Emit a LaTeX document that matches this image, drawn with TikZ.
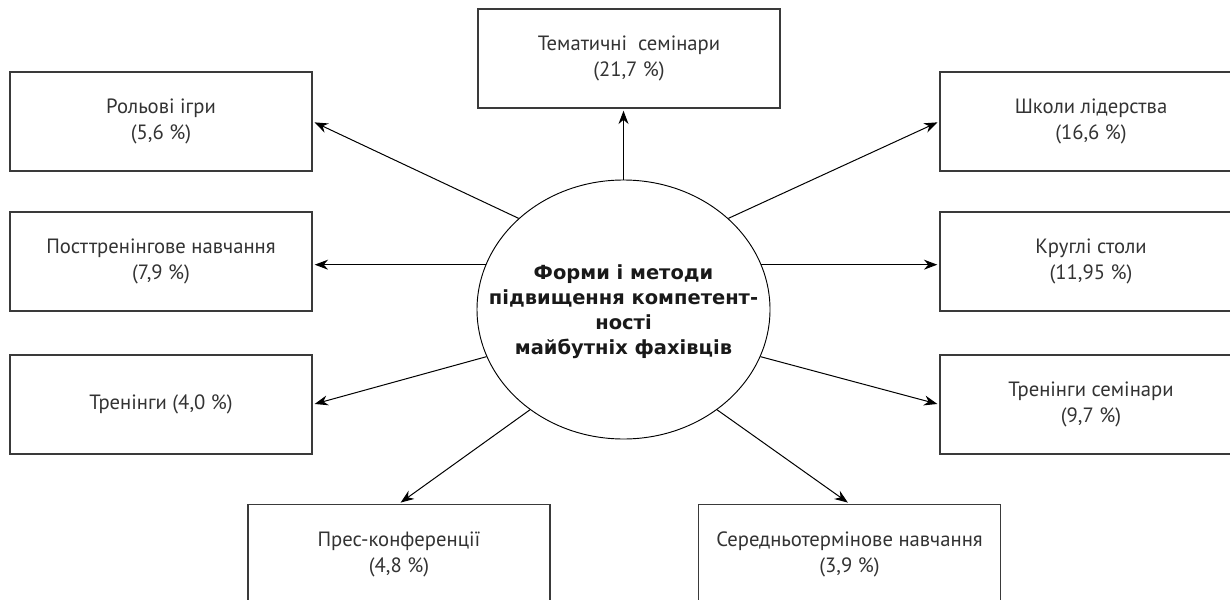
\documentclass[tikz,border=0pt]{standalone}
\usepackage{fontspec}
\setmainfont{PT Sans}
\newfontfamily\hubfont{DejaVu Sans}
\usetikzlibrary{arrows.meta,shapes.geometric}
\definecolor{boxline}{HTML}{3A3A3A}
\definecolor{boxtext}{HTML}{333333}
\begin{document}
\begin{tikzpicture}[x=0.75pt,y=-0.75pt,
  box/.style={draw=boxline, line width=1.1pt, minimum width=226.5pt, minimum height=74.25pt,
    inner sep=0pt, align=center, text=boxtext, font=\fontsize{15.5}{19.5}\selectfont},
  hub/.style={draw=black, line width=0.7pt, ellipse, minimum width=219.75pt, minimum height=194.25pt,
    inner sep=0pt},
  hubtext/.style={inner sep=0pt, align=center, text=black!90,
    font=\hubfont\bfseries\fontsize{14.6}{18.75}\selectfont},
  arr/.style={draw=black, line width=0.75pt, -{Stealth[length=10pt,width=7.5pt]}, shorten >=1.5pt}]
\clip (0,0) rectangle (1230,599);
\node[hub] (c) at (623.5,309.5) {};
\node[hubtext] (ct) at ([yshift=-2pt]c.center) {Форми і методи\\підвищення компетент-\\ності\\майбутніх фахівців};
\node[box] (tem)  at (629,58.5)    {Тематичні\ \ семінари\\(21,7 \%)};
\node[box] (rol)  at (161,121.5)   {Рольові ігри\\(5,6 \%)};
\node[box] (post) at (161,261.5)   {Посттренінгове навчання\\(7,9 \%)};
\node[box] (tr)   at (161,404.5)   {Тренінги (4,0 \%)};
\node[box] (pres) at (399,554)     {Прес-конференції\\(4,8 \%)};
\node[box] (ser)  at (849.5,554)   {Середньотермінове навчання\\(3,9 \%)};
\node[box] (shk)  at (1091,121.5)  {Школи лідерства\\(16,6 \%)};
\node[box] (krug) at (1091,261.5)  {Круглі столи\\(11,95 \%)};
\node[box] (tsem) at (1091,404.5)  {Тренінги семінари\\(9,7 \%)};
\draw[arr] (c.north) -- (c.north |- tem.south);
\draw[arr] (c.139) -- (rol.east);
\draw[arr] (c.162) -- (c.162 -| post.east);
\draw[arr] (c.199) -- (tr.east);
\draw[arr] (c.227) -- (pres.north);
\draw[arr] (c.313) -- (ser.north);
\draw[arr] (c.341) -- (tsem.west);
\draw[arr] (c.18) -- (c.18 -| krug.west);
\draw[arr] (c.41) -- (shk.west);
\end{tikzpicture}
\end{document}
